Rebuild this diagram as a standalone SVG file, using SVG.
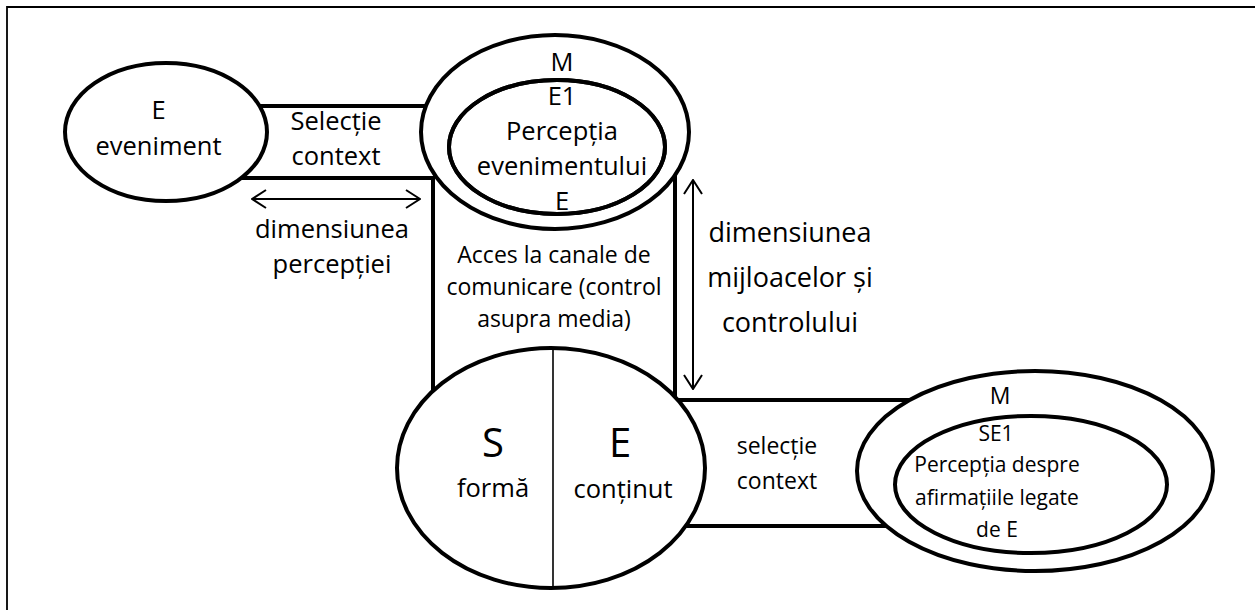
<svg xmlns="http://www.w3.org/2000/svg" width="1255" height="610" viewBox="0 0 1255 610">
  <style>
    .t { font-family: "Open Sans", "Noto Sans", sans-serif; fill: #000; text-anchor: middle; }
    .f25 { font-size: 25.5px; }
    .f23 { font-size: 23px; }
    .f21 { font-size: 21px; }
    .f27 { font-size: 27px; }
    .f40 { font-size: 40px; }
    .thick { fill: none; stroke: #000; stroke-width: 4; }
    .node { fill: #fff; stroke: #000; stroke-width: 4; }
    .dim { fill: none; stroke: #000; stroke-width: 2; }
  </style>
  <defs>
    <marker id="open" viewBox="0 0 16 20" refX="15" refY="10" markerWidth="16" markerHeight="20" orient="auto-start-reverse" markerUnits="userSpaceOnUse">
      <path d="M1,1 L15,10 L1,19" fill="none" stroke="#000" stroke-width="2"/>
    </marker>
  </defs>
  <rect width="1255" height="610" fill="#fff"/>

  <!-- page frame (top and left edges) -->
  <path d="M7,610 V7 H1255" fill="none" stroke="#000" stroke-width="1.8"/>

  <!-- connectors: bands, column and dimension arrows -->
  <g id="connectors">
    <line class="thick" x1="240" y1="106" x2="440" y2="106"/>
    <path class="thick" d="M230,178 H433 V400"/>
    <path class="thick" d="M675,160 V400 H920"/>
    <line class="thick" x1="660" y1="526" x2="900" y2="526"/>
    <line class="dim" x1="252" y1="199" x2="420" y2="199" marker-start="url(#open)" marker-end="url(#open)"/>
    <line class="dim" x1="693" y1="180" x2="693" y2="389" marker-start="url(#open)" marker-end="url(#open)"/>
  </g>

  <!-- band and dimension labels -->
  <g id="labels">
    <text class="t f25" x="336" y="130">Selecție</text>
    <text class="t f25" x="336" y="165">context</text>
    <text class="t f25" x="332" y="238">dimensiunea</text>
    <text class="t f25" x="332" y="273">percepției</text>
    <text class="t f23" x="554" y="263">Acces la canale de</text>
    <text class="t f23" x="554" y="295">comunicare (control</text>
    <text class="t f23" x="554" y="327">asupra media)</text>
    <text class="t f27" x="790" y="242">dimensiunea</text>
    <text class="t f27" x="790" y="287">mijloacelor și</text>
    <text class="t f27" x="790" y="332">controlului</text>
    <text class="t f23" x="777" y="454">selecție</text>
    <text class="t f23" x="777" y="489">context</text>
  </g>

  <!-- event -->
  <g id="node-event">
    <ellipse class="node" cx="166" cy="132" rx="101" ry="69"/>
    <text class="t f25" x="158.5" y="119">E</text>
    <text class="t f25" x="158.5" y="155">eveniment</text>
  </g>

  <!-- media perception of the event -->
  <g id="node-media-event">
    <ellipse class="node" cx="555" cy="132" rx="134" ry="97"/>
    <ellipse class="node" cx="557" cy="147" rx="108" ry="67"/>
    <text class="t f25" x="562" y="71">M</text>
    <text class="t f25" x="562" y="105">E1</text>
    <text class="t f25" x="562" y="140">Percepția</text>
    <text class="t f25" x="562" y="175">evenimentului</text>
    <text class="t f25" x="562" y="210">E</text>
    <ellipse cx="557" cy="147" rx="108" ry="67" fill="none" stroke="#000" stroke-width="4"/>
  </g>

  <!-- sign: form / content -->
  <g id="node-sign">
    <ellipse class="node" cx="551" cy="468" rx="154" ry="120"/>
    <line x1="553" y1="348" x2="553" y2="588" stroke="#000" stroke-width="1.6"/>
    <text class="t f40" x="493" y="457">S</text>
    <text class="t f40" x="620" y="457">E</text>
    <text class="t f25" x="493" y="497">formă</text>
    <text class="t f25" x="623" y="498">conținut</text>
  </g>

  <!-- media perception of statements -->
  <g id="node-media-statements">
    <ellipse class="node" cx="1035" cy="471" rx="178" ry="100"/>
    <ellipse class="node" cx="1031" cy="484.5" rx="136" ry="68.5"/>
    <text class="t f23" x="1000" y="404">M</text>
    <text class="t f21" x="996" y="441">SE1</text>
    <text class="t f21" x="997" y="472">Percepția despre</text>
    <text class="t f21" x="997" y="505">afirmațiile legate</text>
    <text class="t f21" x="997" y="537">de E</text>
  </g>
</svg>
